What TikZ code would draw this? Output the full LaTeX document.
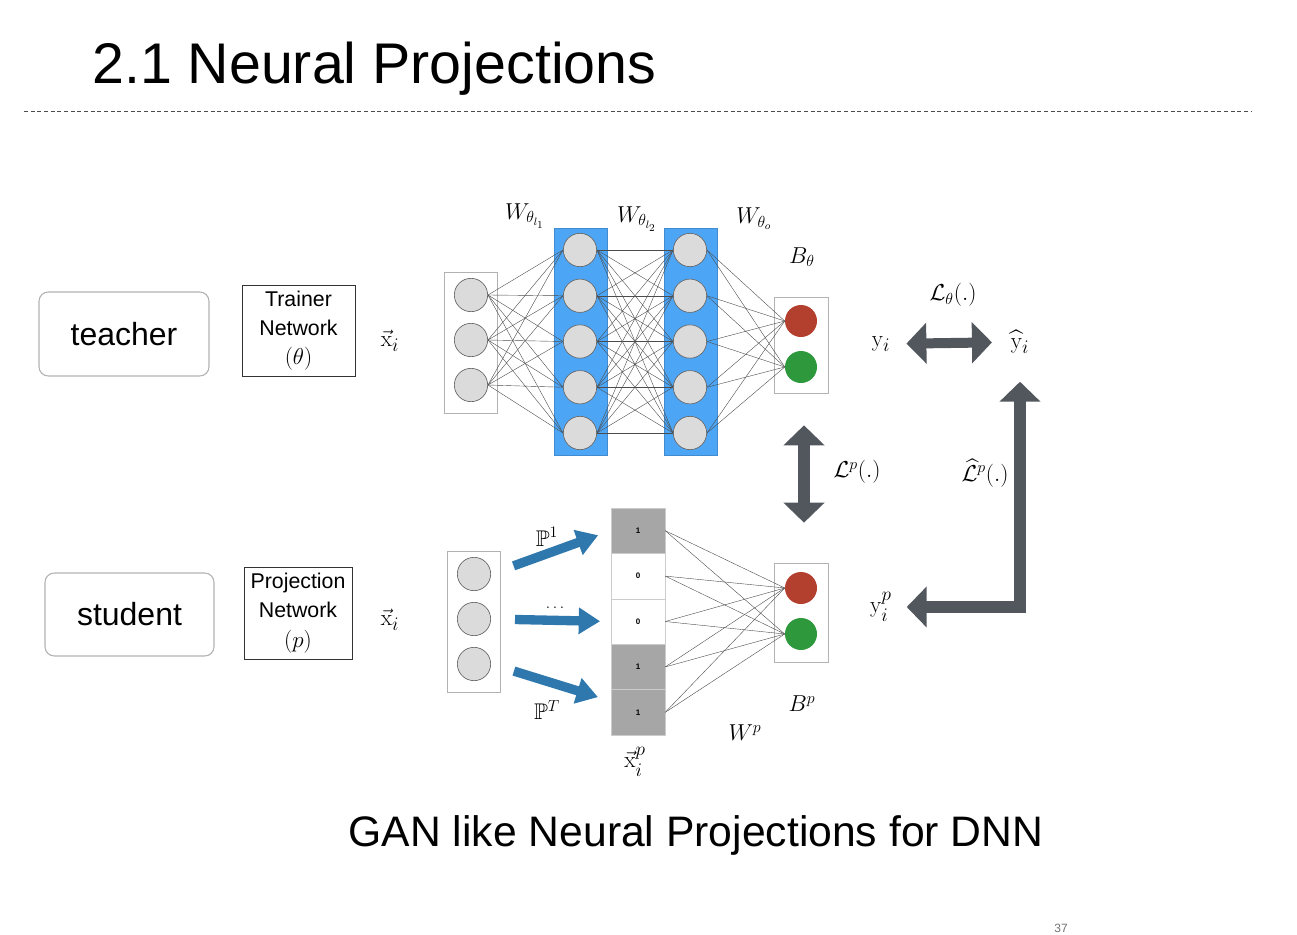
\documentclass[tikz,border=0pt]{standalone}
\usepackage{amssymb,amsmath}
\usepackage[no-math]{fontspec}
\setmainfont{Liberation Sans}
\usetikzlibrary{arrows.meta,calc,positioning}

\definecolor{hidblue}{HTML}{4DA5F5}
\definecolor{outred}{HTML}{B3402F}
\definecolor{outgreen}{HTML}{2E983C}
\definecolor{lossgray}{HTML}{52565D}
\definecolor{projblue}{HTML}{2F78AE}

\begin{document}
\begin{tikzpicture}[x=0.75pt,y=-0.75pt,
	neuron/.style={circle,draw=black!60,fill=black!14,line width=0.5pt,minimum size=25pt,inner sep=0pt},
	outneuron/.style={circle,minimum size=24pt,inner sep=0pt},
	layerbox/.style={draw=black!30,fill=white,line width=0.5pt,inner sep=0pt},
	hidbox/.style={draw=hidblue!85!black,fill=hidblue,line width=0.5pt,inner sep=0pt,minimum width=39.75pt,minimum height=170.25pt},
	rolebox/.style={draw=black!30,line width=0.8pt,rounded corners=7pt,font=\fontsize{24}{28}\selectfont},
	netbox/.style={draw=black!80,line width=0.6pt,align=center,inner sep=1pt,font=\fontsize{16}{22}\selectfont},
	cellbox/.style={draw=black!20,line width=0.4pt,minimum width=40.5pt,minimum height=34pt,inner sep=0pt,font=\fontsize{6}{7}\selectfont\bfseries},
	lbl/.style={inner sep=1pt,font=\fontsize{19}{22}\selectfont},
	wlbl/.style={inner sep=1pt,font=\fontsize{17}{20}\selectfont},
	wire/.style={draw=black!70,line width=0.3pt},
	lossarrow/.style={draw=lossgray,line width=9pt,{Triangle[width=30pt,length=15pt]}-{Triangle[width=30pt,length=15pt]}},
	projarrow/.style={draw=projblue,line width=7pt,-{Triangle[width=19pt,length=16pt]}}]
\useasboundingbox (0,0) rectangle (1297,935);

% title and rule
\node[anchor=base west,inner sep=0pt,font=\fontsize{43}{50}\selectfont] (title) at (92,83) {2.1 Neural Projections};
\draw[black!70,line width=0.5pt,dash pattern=on 3pt off 2pt] (24,111) -- (1251,111);

% roles
\node[rolebox,minimum width=127.5pt,minimum height=63pt] (teacher) at (124,334) {teacher};
\node[rolebox,minimum width=126.75pt,minimum height=62.25pt] (student) at (129.5,614.5) {student};
\node[netbox,minimum width=84.75pt,minimum height=68.25pt] (trainer) at (298.5,330.5) {Trainer\\Network\\$(\theta)$};
\node[netbox,minimum width=81pt,minimum height=69pt] (projnet) at (298,613) {Projection\\Network\\$(p)$};
\node[lbl] (xt) at (390,341) {$\vec{\mathrm{x}}_i$};
\node[lbl] (xb) at (390,620) {$\vec{\mathrm{x}}_i$};

% teacher network
\node[layerbox,minimum width=39.75pt,minimum height=105.75pt] (inT) at (470.5,342.5) {};
\node[hidbox] (layA) at (580.5,341.5) {};
\node[hidbox] (layB) at (690.5,341.5) {};
\node[layerbox,minimum width=40.5pt,minimum height=72pt] (outT) at (801,345) {};
\foreach \k in {1,2,3}
	\node[neuron] (i-\k) at (471,{295+45*(\k-1)}) {};
\foreach \k in {1,...,5} {
	\node[neuron] (ha-\k) at (580,{250+45.75*(\k-1)}) {};
	\node[neuron] (hb-\k) at (690,{250+45.75*(\k-1)}) {};
}
\node[outneuron,fill=outred] (rT) at (801,321) {};
\node[outneuron,fill=outgreen] (gT) at (801,367) {};
\foreach \k in {1,2,3}
	\foreach \j in {1,...,5}
		\path[wire] (i-\k.east) edge (ha-\j.west);
\foreach \k in {1,...,5}
	\foreach \j in {1,...,5}
		\path[wire] (ha-\k.east) edge (hb-\j.west);
\foreach \k in {1,...,5}
	\foreach \o in {rT,gT}
		\path[wire] (hb-\k.east) edge (\o.west);

\node[wlbl] at (525,216) {$W_{\theta_{l_1}}$};
\node[wlbl] at (637,219) {$W_{\theta_{l_2}}$};
\node[wlbl] at (754,219) {$W_{\theta_o}$};
\node[wlbl] at (802,257) {$B_{\theta}$};

% student network
\node[layerbox,minimum width=39.75pt,minimum height=105.75pt] (inB) at (473.5,621.5) {};
\foreach \k in {1,2,3}
	\node[neuron] (b-\k) at (474,{574+45*(\k-1)}) {};
\foreach \v/\f [count=\k] in {1/black!35,0/white,0/white,1/black!35,1/black!35}
	\node[cellbox,fill=\f] (c-\k) at (638,{530.7+45.4*(\k-1)}) {\v};
\node[layerbox,minimum width=40.5pt,minimum height=74.25pt] (outB) at (801,612.5) {};
\node[outneuron,fill=outred] (rB) at (801,588) {};
\node[outneuron,fill=outgreen] (gB) at (801,634) {};
\foreach \k in {1,...,5}
	\foreach \o in {rB,gB}
		\path[wire] (c-\k.east) edge (\o.west);

\draw[projarrow,shorten <=18pt,shorten >=10pt] (b-1.east) -- (c-1.west);
\draw[projarrow,shorten <=18pt,shorten >=8pt] (b-2.east) -- (c-3.west);
\draw[projarrow,shorten <=18pt,shorten >=10pt] (b-3.east) -- ($(c-4.south west)!0.5!(c-5.west)$);
\node[wlbl] at (547,537) {$\mathbb{P}^1$};
\node[inner sep=1pt,font=\fontsize{13}{15}\selectfont] at (555,608) {$\ldots$};
\node[wlbl] at (547,710) {$\mathbb{P}^T$};
\node[lbl] at (635,762) {$\vec{\mathrm{x}}^p_i$};
\node[wlbl] at (745,733) {$W^p$};
\node[wlbl] at (802,704) {$B^p$};

% losses
\node[lbl] (yt) at (881,344) {$\mathrm{y}_i$};
\node[lbl] (yh) at (1020,342) {$\widehat{\mathrm{y}}_i$};
\node[lbl] (yp) at (881,607) {$\mathrm{y}^p_i$};
\draw[lossarrow,line width=7.5pt,shorten <=11pt,shorten >=13pt] (yt) -- (yh);
\draw[lossarrow,shorten <=24pt,shorten >=30pt] ($(outT.south)+(3,0)$) -- ($(outB.north)+(3,0)$);
\draw[lossarrow,line join=miter,shorten <=10pt,shorten >=20pt] (yp.east) -| (yh.south);
\node[wlbl] at (953,295) {$\mathcal{L}_{\theta}(.)$};
\node[wlbl] at (857,472) {$\mathcal{L}^p(.)$};
\node[wlbl] at (985,473) {$\widehat{\mathcal{L}}^p(.)$};

% caption
\node[anchor=base,inner sep=0pt,font=\fontsize{32}{38}\selectfont] (caption) at (696,846) {GAN like Neural Projections for DNN};
\node[text=black!55,inner sep=0pt,font=\fontsize{9}{10}\selectfont] (page) at (1061,928) {37};
\end{tikzpicture}
\end{document}
